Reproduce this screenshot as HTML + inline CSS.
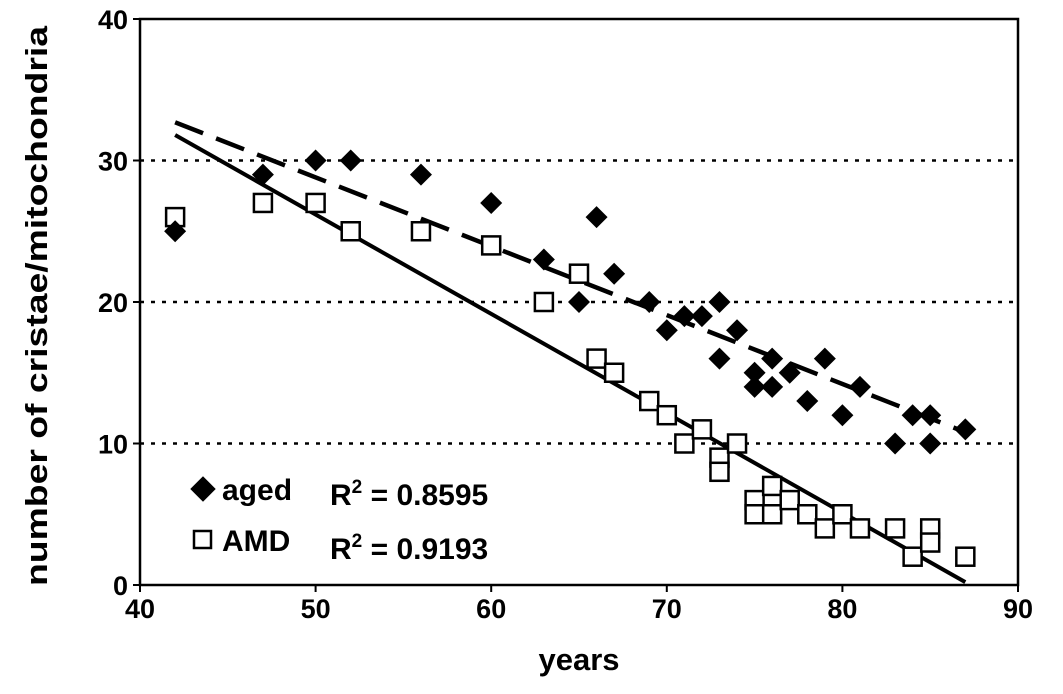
<!DOCTYPE html><html><head><style>body{margin:0;background:#fff}svg{font-family:"Liberation Sans",sans-serif;font-weight:bold}</style></head><body>
<svg width="1063" height="689">
<g id="g"></g>
<text transform="translate(47,306) rotate(-90)" text-anchor="middle" font-size="31" textLength="560" lengthAdjust="spacingAndGlyphs">number of cristae/mitochondria</text>
<text x="579" y="670" text-anchor="middle" font-size="31">years</text>
<g>
<rect x="194" y="480" width="18" height="18" transform="rotate(45 203 489)" fill="#000"/>
<text x="222" y="500" font-size="30">aged</text>
<rect x="194" y="531" width="17" height="17" fill="#fff" stroke="#000" stroke-width="2.5"/>
<text x="222" y="551" font-size="30">AMD</text>
<text x="330" y="505" font-size="30">R<tspan dy="-12" font-size="19">2</tspan><tspan dy="12"> = 0.8595</tspan></text>
<text x="330" y="559" font-size="30">R<tspan dy="-12" font-size="19">2</tspan><tspan dy="12"> = 0.9193</tspan></text>
</g>
</svg>
<script>
const xTicks=[40,50,60,70,80,90];
const yTicks=[0,10,20,30,40];
const agedX=[42,47,50,52,56,60,63,65,66,67,69,70,71,72,73,73,74,75,75,76,76,77,78,79,80,81,83,84,85,85,87];
const agedY=[25,29,30,30,29,27,23,20,26,22,20,18,19,19,20,16,18,15,14,16,14,15,13,16,12,14,10,12,12,10,11];
const amdX=[42,47,50,52,56,60,63,65,66,67,69,70,71,72,73,73,74,75,75,76,76,77,78,79,80,81,83,84,85,85,87];
const amdY=[26,27,27,25,25,24,20,22,16,15,13,12,10,11,9,8,10,6,5,7,5,6,5,4,5,4,4,2,4,3,2];
const agedTrend=[[42,32.7],[87,10.8]];
const amdTrend=[[42,31.8],[87,0.2]];
const L=140,R=1018,T=19,B=585;
const sx=v=>L+(v-40)/50*(R-L), sy=v=>B-v/40*(B-T);
const g=document.getElementById('g'),NS='http://www.w3.org/2000/svg';
function mk(t,a){const e=document.createElementNS(NS,t);for(const k in a)e.setAttribute(k,a[k]);g.appendChild(e);return e;}
yTicks.forEach(v=>{if(v>0&&v<40){const l=mk('line',{x1:L,x2:R,y1:sy(v),y2:sy(v),stroke:'#000','stroke-width':2.5,'stroke-dasharray':'4 7'});

}
const t=mk('text',{x:L-12,y:sy(v)+10,'text-anchor':'end','font-size':27});t.textContent=v;


mk('line',{x1:L-7,x2:L,y1:sy(v),y2:sy(v),stroke:'#000','stroke-width':2});});
xTicks.forEach(v=>{const t=mk('text',{x:sx(v),y:B+33,'text-anchor':'middle','font-size':27});t.textContent=v;


mk('line',{x1:sx(v),x2:sx(v),y1:B,y2:B+7,stroke:'#000','stroke-width':2});});
const f=mk('rect',{x:L,y:T,width:R-L,height:B-T,fill:'none',stroke:'#000','stroke-width':2.5});


const d=mk('line',{x1:sx(agedTrend[0][0]),y1:sy(agedTrend[0][1]),x2:sx(agedTrend[1][0]),y2:sy(agedTrend[1][1]),stroke:'#000','stroke-width':4.5,'stroke-dasharray':'30 14'});


const s=mk('line',{x1:sx(amdTrend[0][0]),y1:sy(amdTrend[0][1]),x2:sx(amdTrend[1][0]),y2:sy(amdTrend[1][1]),stroke:'#000','stroke-width':4});


amdX.forEach((x,i)=>{const r=mk('rect',{x:sx(x)-9,y:sy(amdY[i])-9,width:18,height:18,fill:'#fff',stroke:'#000','stroke-width':2.5});

});
agedX.forEach((x,i)=>{const cx=sx(x),cy=sy(agedY[i]);const p=mk('polygon',{points:`${cx},${cy-11} ${cx+11},${cy} ${cx},${cy+11} ${cx-11},${cy}`,fill:'#000'});

});
</script></body></html>
